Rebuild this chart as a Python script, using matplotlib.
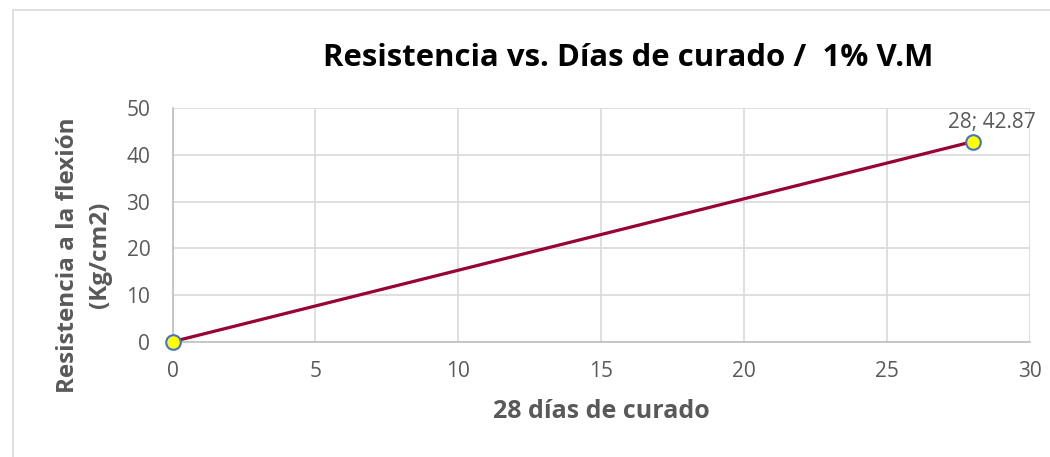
import matplotlib.pyplot as plt
from matplotlib.patches import Rectangle

plt.rcParams["font.family"] = ["Open Sans", "DejaVu Sans"]

dias = [0, 28]
resistencia = [0, 42.87]
x_ticks = [0, 5, 10, 15, 20, 25, 30]
y_ticks = [0, 10, 20, 30, 40, 50]

TEXT_GRAY = "#595959"
GRID_GRAY = "#d9d9d9"
W, H = 1050, 457

fig = plt.figure(figsize=(10.5, 4.57), dpi=100)
fig.patch.set_facecolor("white")

# outer chart frame (runs off the right and bottom of the image)
fig.patches.append(Rectangle((13 / W, -0.1), 1.2, (H - 10) / H + 0.1,
                             transform=fig.transFigure, fill=False,
                             edgecolor=GRID_GRAY, linewidth=1.2))

ax = fig.add_axes([172.5 / W, 1 - 341.7 / H,
                   (1030 - 172.5) / W, (341.7 - 108.3) / H])

ax.plot(dias, resistencia, color="#990033", linewidth=2.3,
        marker="o", markersize=10.5, markerfacecolor="#ffff00",
        markeredgecolor="#4472c4", markeredgewidth=1.5,
        zorder=3, clip_on=False)

ax.annotate(f"{dias[-1]}; {resistencia[-1]:.2f}", (dias[-1], resistencia[-1]),
            xytext=(14, 6), textcoords="offset points", ha="center", va="bottom",
            fontsize=15, color=TEXT_GRAY)

ax.set_xlim(0, 30)
ax.set_ylim(0, 50)
ax.set_xticks(x_ticks)
ax.set_yticks(y_ticks)
ax.grid(True, color=GRID_GRAY, linewidth=1.2)
ax.set_axisbelow(True)
ax.tick_params(length=0, labelsize=15, labelcolor=TEXT_GRAY)
ax.tick_params(axis="x", pad=14)
ax.tick_params(axis="y", pad=16)
for side in ["top", "right"]:
    ax.spines[side].set_visible(False)
for side in ["left", "bottom"]:
    ax.spines[side].set_color("#bfbfbf")
    ax.spines[side].set_linewidth(1.2)

fig.text(601 / W, 1 - 412 / H, "28 días de curado", ha="center", va="center",
         fontsize=18, fontweight="bold", color=TEXT_GRAY)
fig.text(84 / W, 1 - 255 / H, "Resistencia a la flexión\n(Kg/cm2)",
         ha="center", va="center", rotation=90, multialignment="center",
         fontsize=17.5, fontweight="bold", color=TEXT_GRAY, linespacing=1.45)

fig.text(628 / W, 1 - 58 / H, "Resistencia vs. Días de curado /  1% V.M",
         ha="center", va="center", fontsize=22.4, fontweight="bold", color="black")

fig.savefig("out.png", dpi=100)
